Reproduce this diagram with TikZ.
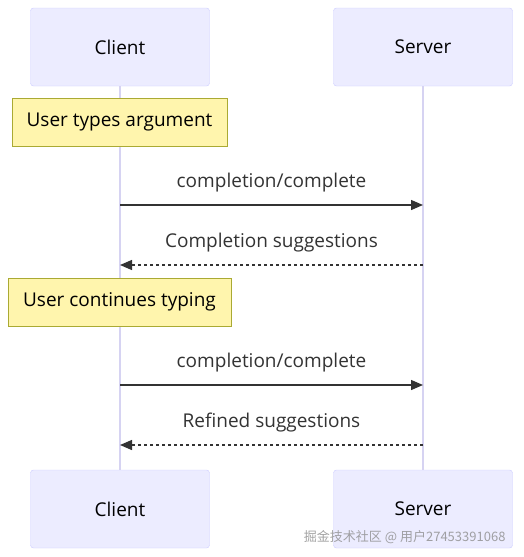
\documentclass[tikz,border=0pt]{standalone}
\usepackage{fontspec}
\setmainfont{Open Sans}
\newfontfamily\cjk{Noto Sans CJK SC}
\usetikzlibrary{arrows.meta}

\definecolor{actorFill}{HTML}{ECECFF}
\definecolor{actorLine}{HTML}{CCCCFF}
\definecolor{lifeLine}{HTML}{D6D3F2}
\definecolor{noteFill}{HTML}{FFF5AD}
\definecolor{noteLine}{HTML}{AAAA33}
\definecolor{msgText}{HTML}{333333}

\def\xClient{120}
\def\xServer{423}

\tikzset{
  actor/.style={draw=actorLine, fill=actorFill, rounded corners=3pt,
    minimum width=179pt, minimum height=78pt, font=\fontsize{19}{22}\selectfont},
  note/.style={draw=noteLine, fill=noteFill, minimum height=48pt,
    font=\fontsize{19}{22}\selectfont},
  msg/.style={draw=msgText, line width=1.3pt, -{Triangle[length=12pt,width=10pt]}},
  reply/.style={msg, dash pattern=on 3pt off 3pt},
  label/.style={text=msgText, font=\fontsize{19}{22}\selectfont}
}

\begin{document}
\begin{tikzpicture}[x=1pt, y=-1pt]
      \useasboundingbox (0,0) rectangle (524,557);
      % actors
      \node[actor] (clientTop) at (\xClient,47) {Client};
      \node[actor] (serverTop) at (\xServer,47) {Server};
      \node[actor] (clientBot) at (\xClient,509) {Client};
      \node[actor] (serverBot) at (\xServer,509) {Server};
      % lifelines
      \draw[lifeLine, line width=1.5pt] (clientTop.south) -- (clientBot.north);
      \draw[lifeLine, line width=1.5pt] (serverTop.south) -- (serverBot.north);
      % notes
      \node[note, minimum width=215pt] (typeNote) at (119.5,122) {User types argument};
      \node[note, minimum width=223pt] (contNote) at (119.5,302) {User continues typing};
      % messages
      \foreach \y/\txt [count=\n] in {205/completion\slash complete,
          265/Completion suggestions,
          385/completion\slash complete,
          445/Refined suggestions} {
          \coordinate (c\n) at (\xClient,\y);
          \coordinate (s\n) at (\xServer,\y);
          \node[label] (lbl\n) at (271.5,\y-22) {\txt};
      }
      \draw[msg] (c1) -- (s1);
      \draw[reply] (s2) -- (c2);
      \draw[msg] (c3) -- (s3);
      \draw[reply] (s4) -- (c4);
      % watermark
      \node[text=black!45, opacity=0.8, font=\cjk\fontsize{13}{15}\selectfont, anchor=east]
          (mark) at (509,537) {掘金技术社区 @ 用户27453391068};
\end{tikzpicture}
\end{document}
